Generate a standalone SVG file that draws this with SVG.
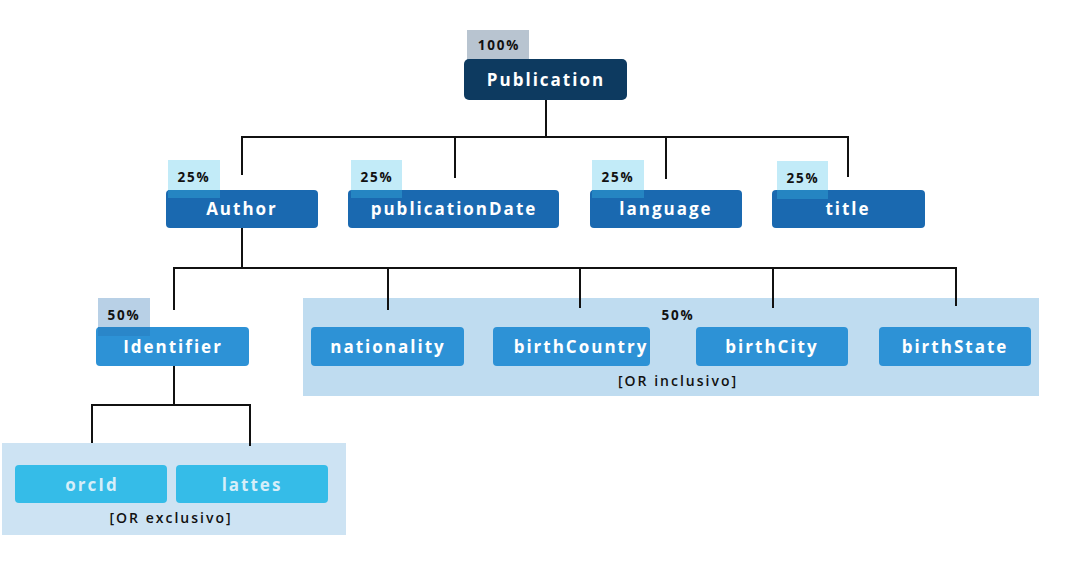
<svg xmlns="http://www.w3.org/2000/svg" width="1082" height="562" viewBox="0 0 1082 562">
<style>
.n text{font-family:"Open Sans","Liberation Sans",sans-serif;font-weight:700;font-size:17px;letter-spacing:2px;fill:#fff;text-anchor:middle}
.n text.b,.b{font-family:"Open Sans","Liberation Sans",sans-serif;font-weight:700;font-size:13.5px;letter-spacing:1.8px;fill:#111;text-anchor:middle}
.p{font-family:"Open Sans","Liberation Sans",sans-serif;font-weight:600;font-size:14px;letter-spacing:2px;fill:#111;text-anchor:middle}
.l1{fill:#0d3a60}
.l2{fill:#1a69b0}
.l3{fill:#2d92d6}
.l4{fill:#35bce8}
.c line{stroke:#111;stroke-width:2;fill:none}
</style>
<rect width="1082" height="562" fill="#fff"/>
<rect x="303" y="298" width="736" height="98" fill="#bfdcf0"/>
<rect x="2" y="443" width="344" height="92" fill="#cde3f3"/>
<g class="c" id="connectors">
<line x1="546" y1="100" x2="546" y2="137"/>
<line x1="241" y1="137" x2="849" y2="137"/>
<line x1="242" y1="137" x2="242" y2="175"/>
<line x1="455" y1="137" x2="455" y2="178"/>
<line x1="666" y1="137" x2="666" y2="179"/>
<line x1="848" y1="137" x2="848" y2="177"/>
<line x1="242" y1="228" x2="242" y2="268"/>
<line x1="173" y1="268" x2="957" y2="268"/>
<line x1="174" y1="268" x2="174" y2="310"/>
<line x1="388" y1="268" x2="388" y2="310"/>
<line x1="580" y1="268" x2="580" y2="308"/>
<line x1="773" y1="268" x2="773" y2="308"/>
<line x1="956" y1="268" x2="956" y2="306"/>
<line x1="174" y1="366" x2="174" y2="405"/>
<line x1="91" y1="405" x2="251" y2="405"/>
<line x1="92" y1="405" x2="92" y2="443"/>
<line x1="250" y1="405" x2="250" y2="446"/>
</g>
<g id="publication" class="n">
<rect x="467" y="30" width="62" height="30" fill="#b8c4d0"/>
<text class="b" x="499" y="50">100%</text>
<rect class="l1" x="464" y="59" width="163" height="41" rx="5"/>
<text x="546" y="86">Publication</text>
</g>
<g id="author" class="n">
<rect x="168" y="160" width="52" height="38" fill="#c2ebf8"/>
<rect class="l2" x="166" y="190" width="152" height="38" rx="4"/>
<rect x="168" y="190" width="52" height="8" fill="#2585c2"/>
<text class="b" x="194" y="182">25%</text>
<text x="242" y="215">Author</text>
</g>
<g id="publicationDate" class="n">
<rect x="351" y="160" width="51" height="38" fill="#c2ebf8"/>
<rect class="l2" x="348" y="190" width="211" height="38" rx="4"/>
<rect x="351" y="190" width="51" height="8" fill="#2585c2"/>
<text class="b" x="377" y="182">25%</text>
<text x="454" y="215">publicationDate</text>
</g>
<g id="language" class="n">
<rect x="592" y="160" width="52" height="38" fill="#c2ebf8"/>
<rect class="l2" x="590" y="190" width="152" height="38" rx="4"/>
<rect x="592" y="190" width="52" height="8" fill="#2585c2"/>
<text class="b" x="618" y="182">25%</text>
<text x="666" y="215">language</text>
</g>
<g id="title" class="n">
<rect x="777" y="161" width="51" height="38" fill="#c2ebf8"/>
<rect class="l2" x="772" y="190" width="153" height="38" rx="4"/>
<rect x="777" y="190" width="51" height="9" fill="#2585c2"/>
<text class="b" x="803" y="183">25%</text>
<text x="848" y="215">title</text>
</g>
<g id="identifier" class="n">
<rect x="98" y="298" width="52" height="38" fill="#b8d0e6"/>
<rect class="l3" x="96" y="327" width="153" height="39" rx="4"/>
<rect x="98" y="327" width="52" height="9" fill="#2a86c9"/>
<text class="b" x="124" y="320">50%</text>
<text x="173" y="353">Identifier</text>
</g>
<g id="attributes-group">
<text class="b" x="678" y="320">50%</text>
<text class="p" x="678" y="386">[OR inclusivo]</text>
</g>
<g id="nationality" class="n">
<rect class="l3" x="311" y="327" width="153" height="39" rx="4"/>
<text x="388" y="353">nationality</text>
</g>
<g id="birthCountry" class="n">
<rect class="l3" x="493" y="327" width="157" height="39" rx="4"/>
<text x="581" y="353">birthCountry</text>
</g>
<g id="birthCity" class="n">
<rect class="l3" x="696" y="327" width="152" height="39" rx="4"/>
<text x="772" y="353">birthCity</text>
</g>
<g id="birthState" class="n">
<rect class="l3" x="879" y="327" width="152" height="39" rx="4"/>
<text x="955" y="353">birthState</text>
</g>
<g id="orcId" class="n">
<rect class="l4" x="15" y="465" width="152" height="38" rx="4"/>
<text x="92" y="491" style="fill:#d6eef9">orcId</text>
</g>
<g id="lattes" class="n">
<rect class="l4" x="176" y="465" width="152" height="38" rx="4"/>
<text x="252" y="491" style="fill:#d6eef9">lattes</text>
</g>
<text class="p" x="171" y="523">[OR exclusivo]</text>
</svg>
